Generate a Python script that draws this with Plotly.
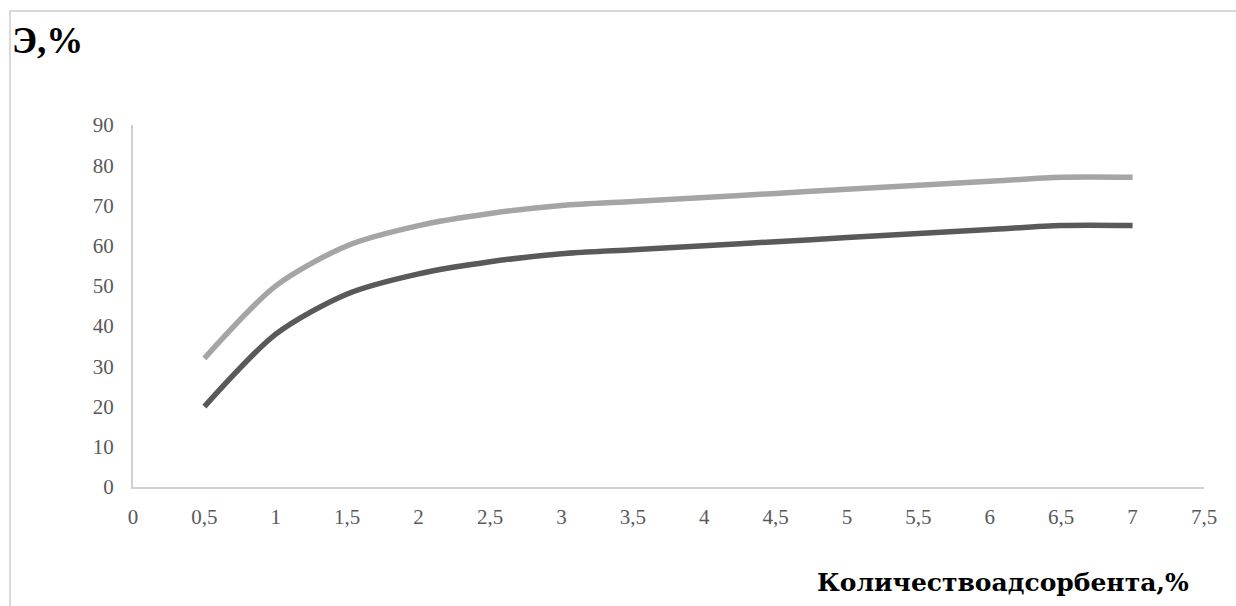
import plotly.graph_objects as go

# Adsorbent amount, %
adsorbent = [0.5, 1, 1.5, 2, 2.5, 3, 3.5, 4, 4.5, 5, 5.5, 6, 6.5, 7]
# Efficiency, % (two series)
eff_upper = [32, 50, 60, 65, 68, 70, 71, 72, 73, 74, 75, 76, 77, 77]
eff_lower = [20, 38, 48, 53, 56, 58, 59, 60, 61, 62, 63, 64, 65, 65]

x_tickvals = [0, 0.5, 1, 1.5, 2, 2.5, 3, 3.5, 4, 4.5, 5, 5.5, 6, 6.5, 7, 7.5]
x_ticktext = ["0", "0,5", "1", "1,5", "2", "2,5", "3", "3,5", "4", "4,5",
              "5", "5,5", "6", "6,5", "7", "7,5"]
y_tickvals = [0, 10, 20, 30, 40, 50, 60, 70, 80, 90]

W, H = 1236, 606
L, R, T, B = 133, 32, 125, 119
pw, ph = W - L - R, H - T - B

fig = go.Figure()
fig.add_trace(go.Scatter(
    x=adsorbent, y=eff_upper, mode="lines",
    line=dict(color="#a5a5a5", width=5.5, shape="spline", smoothing=0.8),
    showlegend=False, hoverinfo="skip"))
fig.add_trace(go.Scatter(
    x=adsorbent, y=eff_lower, mode="lines",
    line=dict(color="#595959", width=5.5, shape="spline", smoothing=0.8),
    showlegend=False, hoverinfo="skip"))

tick_font = dict(family="Liberation Serif", size=21, color="#595959")

fig.update_xaxes(
    range=[0, 7.5], tickvals=x_tickvals, ticktext=x_ticktext,
    showgrid=False, zeroline=False, showline=True, linecolor="#d0d0d0", linewidth=2,
    ticks="", tickfont=tick_font, ticklabelstandoff=10)
fig.update_yaxes(
    range=[0, 90], tickvals=y_tickvals,
    showgrid=False, zeroline=False, showline=True, linecolor="#d0d0d0", linewidth=2,
    ticks="", tickfont=tick_font, ticklabelstandoff=13)

# outer chart frame (open on the right and bottom edges)
fx0 = (10 - L) / pw
fy1 = (H - B - 11) / ph
fig.add_shape(type="rect", xref="paper", yref="paper",
              x0=fx0, x1=(W + 20 - L) / pw, y0=-(B + 20) / ph, y1=fy1,
              line=dict(color="#d9d9d9", width=2), layer="below")

fig.add_annotation(
    text="<b>Э,%</b>", xref="paper", yref="paper",
    x=(10 - L) / pw, y=(H - B - 41) / ph, xanchor="left", yanchor="middle",
    showarrow=False,
    font=dict(family="Liberation Serif", size=37, color="#000000"))

fig.add_annotation(
    text="<b>Количествоадсорбента,%</b>", xref="paper", yref="paper",
    x=(1003 - L) / pw, y=(H - B - 582) / ph, xanchor="center", yanchor="middle",
    showarrow=False,
    font=dict(family="DejaVu Serif", size=25, color="#000000"))

fig.update_layout(
    width=W, height=H,
    margin=dict(l=L, r=R, t=T, b=B),
    paper_bgcolor="#ffffff", plot_bgcolor="#ffffff")

fig.write_html("out.html")
